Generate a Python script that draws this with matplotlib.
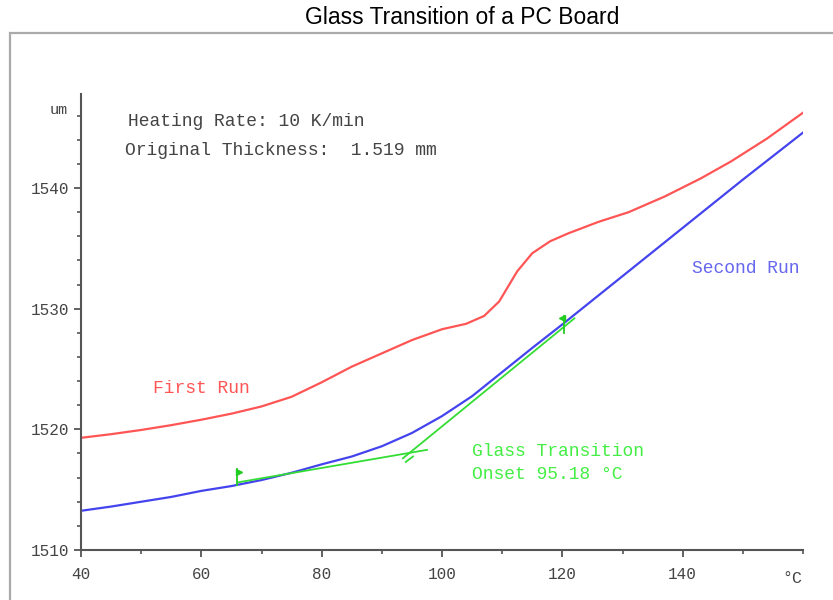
import numpy as np
import matplotlib.pyplot as plt
from matplotlib.patches import Rectangle
from matplotlib.ticker import MultipleLocator

# temperatures (degC) and thickness (um)
temp = [40, 45, 50, 55, 60, 65, 70, 75, 80, 85, 90, 95, 100, 104, 107, 109.5,
        112.5, 115, 118, 121, 126, 131, 137, 143, 148, 154, 160]
first_run = [1519.3, 1519.6, 1519.95, 1520.35, 1520.8, 1521.3, 1521.9, 1522.7,
             1523.9, 1525.2, 1526.3, 1527.4, 1528.3, 1528.75, 1529.4, 1530.6,
             1533.1, 1534.6, 1535.6, 1536.25, 1537.2, 1538.0, 1539.3, 1540.8,
             1542.2, 1544.1, 1546.25]

temp2 = [40, 45, 50, 55, 60, 65, 70, 75, 80, 85, 90, 95, 100, 105, 110, 115,
         120, 125, 130, 135, 140, 145, 150, 155, 160]
second_run = [1513.25, 1513.6, 1514.0, 1514.4, 1514.9, 1515.3, 1515.8, 1516.4,
              1517.1, 1517.75, 1518.6, 1519.7, 1521.1, 1522.75, 1524.75,
              1526.75, 1528.7, 1530.7, 1532.7, 1534.7, 1536.7, 1538.7,
              1540.7, 1542.65, 1544.6]

# tangent lines for the onset construction
tan_a_x = [66, 97.5]
tan_a_y = [1515.6, 1518.3]
tan_b_x = [93.5, 122]
tan_b_y = [1517.6, 1529.2]
onset = 95.18

mono = 'Liberation Mono'
gray = '#555555'
txt = '#444444'

fig = plt.figure(figsize=(8.33, 6), dpi=100)
# outer frame
fig.patches.append(Rectangle((10/833, -0.05), 1.0, 1 - 33/600 + 0.05, transform=fig.transFigure,
                             fill=False, edgecolor='#aaaaaa', lw=1.6))
fig.text(462/833, 1 - 18/600, 'Glass Transition of a PC Board', ha='center', va='center',
         fontsize=16.5, family='Liberation Sans')

ax = fig.add_axes([81/833, 1 - 550/600, 722/833, (550 - 94)/600])
ax.plot(temp, first_run, color='#ff5555', lw=1.6)
ax.plot(temp2, second_run, color='#4444ee', lw=1.6)
ax.plot(tan_a_x, tan_a_y, color='#33dd33', lw=1.3)
ax.plot(tan_b_x, tan_b_y, color='#33dd33', lw=1.3)
ax.plot([onset - 1.2, onset], [1517.3, 1517.75], color='#33dd33', lw=1.3)

# evaluation limit flags
ax.plot([66, 66], [1515.4, 1516.7], color='#22cc22', lw=1.3)
ax.plot(66.3, 1516.5, marker='>', color='#22cc22', ms=4)
ax.plot([120.3, 120.3], [1528.0, 1529.4], color='#22cc22', lw=1.3)
ax.plot(120.0, 1529.2, marker='<', color='#22cc22', ms=4)

ax.set_xlim(40, 160)
ax.set_ylim(1510, 1547.8)
ax.set_xticks([40, 60, 80, 100, 120, 140])
ax.set_yticks([1510, 1520, 1530, 1540])
ax.xaxis.set_minor_locator(MultipleLocator(10))
ax.yaxis.set_minor_locator(MultipleLocator(2))
for s in ['top', 'right']:
    ax.spines[s].set_visible(False)
for s in ['left', 'bottom']:
    ax.spines[s].set_color(gray)
    ax.spines[s].set_linewidth(1.5)
ax.tick_params(which='major', length=5, width=1.3, color=gray, labelcolor=txt,
               labelsize=11.5)
ax.tick_params(which='minor', length=3, width=1.2, color=gray)
ax.tick_params(axis='x', pad=7)
for lab in ax.get_xticklabels() + ax.get_yticklabels():
    lab.set_family(mono)

ax.text(-0.018, 1546.5, 'um', transform=ax.get_yaxis_transform(), ha='right', va='center',
        family=mono, fontsize=11, color=txt)
ax.text(158.3, 1507.6, '°C', ha='center', va='center', family=mono, fontsize=12, color=txt)

ax.text(47.8, 1545.5, 'Heating Rate: 10 K/min', family=mono, fontsize=13, color=txt,
        va='center')
ax.text(47.3, 1543.1, 'Original Thickness:  1.519 mm', family=mono, fontsize=13,
        color=txt, va='center')
ax.text(52, 1523.4, 'First Run', family=mono, fontsize=13, color='#ff5555', va='center')
ax.text(141.5, 1533.3, 'Second Run', family=mono, fontsize=13, color='#6666ee',
        va='center')
ax.text(105, 1518.2, 'Glass Transition', family=mono, fontsize=13, color='#44ee44',
        va='center')
ax.text(105, 1516.25, 'Onset 95.18 °C', family=mono, fontsize=13, color='#44ee44',
        va='center')

fig.savefig('out.png', dpi=100)
